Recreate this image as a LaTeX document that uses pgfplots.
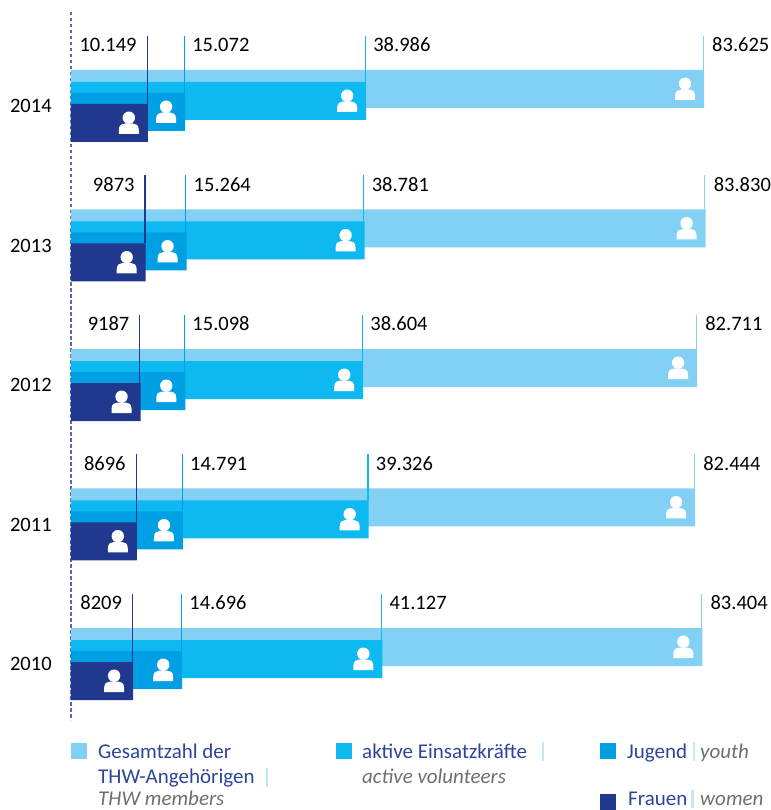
\documentclass[border=0pt]{standalone}
\usepackage{pgfplots}
\pgfplotsset{compat=1.18}
\usepackage{pgfplotstable}
\usepackage{fontspec}
\setmainfont{Carlito}
\definecolor{cTotal}{HTML}{83D0F5}
\definecolor{cActive}{HTML}{0DB9F0}
\definecolor{cYouth}{HTML}{009FE3}
\definecolor{cWomen}{HTML}{21388F}
\definecolor{cText}{HTML}{2C4697}
\definecolor{cSep}{HTML}{C4E6F8}
\definecolor{cGray}{HTML}{6F6F6F}
\pgfdeclareplotmark{person}{%
  \pgfpathcircle{\pgfpoint{-19pt}{5.3pt}}{6.2pt}\pgfusepathqfill
  \pgfpathmoveto{\pgfpoint{-29pt}{-11pt}}
  \pgfpathlineto{\pgfpoint{-29pt}{-7pt}}
  \pgfpathcurveto{\pgfpoint{-29pt}{-2pt}}{\pgfpoint{-26pt}{-0.5pt}}{\pgfpoint{-23pt}{-0.5pt}}
  \pgfpathlineto{\pgfpoint{-15pt}{-0.5pt}}
  \pgfpathcurveto{\pgfpoint{-12pt}{-0.5pt}}{\pgfpoint{-9pt}{-2pt}}{\pgfpoint{-9pt}{-7pt}}
  \pgfpathlineto{\pgfpoint{-9pt}{-11pt}}
  \pgfpathclose\pgfusepathqfill}
\pgfplotstableread{
year total active youth women
2014 83625 38986 15072 10149
2013 83830 38781 15264 9873
2012 82711 38604 15098 9187
2011 82444 39326 14791 8696
2010 83404 41127 14696 8209
}\members
\newcommand{\seriesplots}[3]{% column, colour, bar centre offset
  \addplot[xbar, bar width=38pt, bar shift=0pt, fill=#2, draw=none, forget plot]
    table[x=#1, y expr={(2014-\thisrow{year})*139.5+#3}] {\members};
}
\newcommand{\seriesline}[4]{% column, colour, line length, label placement
  \addplot[draw=none, mark=none, forget plot, xshift=-0.7pt,
    error bars/.cd, y dir=plus, y fixed=#3,
    error bar style={draw=#2, line width=1.2pt}, error mark=none]
    table[x=#1, y expr={(2014-\thisrow{year})*139.5+36}] {\members};
  \addplot[draw=none, mark=none, forget plot, point meta=x,
    nodes near coords={\pgfmathprintnumber[assume math mode=true, 1000 sep={.}, min exponent for 1000 sep=4]{\pgfplotspointmeta}},
    nodes near coords style={font=\fontsize{20.5}{20.5}\selectfont, text=black, inner sep=0pt, #4}]
    table[x=#1, y expr={(2014-\thisrow{year})*139.5+36}] {\members};
}
\newcommand{\seriesicon}[2]{%
  \addplot[only marks, mark=person, color=white, forget plot]
    table[x=#1, y expr={(2014-\thisrow{year})*139.5+#2}] {\members};
}
\newcommand{\lgsw}[3]{\fill[#1] (axis cs:-9379,0) ++(#2pt,-#3pt) rectangle ++(16pt,-16pt);}
\newcommand{\lgsep}[3]{\fill[cSep] (axis cs:-9379,0) ++(#1pt,-#2pt) rectangle ++(2.5pt,-#3pt);}
\newcommand{\lgt}[3]{\node[anchor=base west, inner sep=0pt, text=cText, font=\fontsize{21}{21}\selectfont] at ([shift={(#1pt,-#2pt)}]axis cs:-9379,0) {#3};}
\newcommand{\lgi}[3]{\node[anchor=base west, inner sep=0pt, text=cGray, font=\fontsize{21}{21}\selectfont\itshape] at ([shift={(#1pt,-#2pt)}]axis cs:-9379,0) {#3};}
\begin{document}
\begin{tikzpicture}[x=1pt,y=1pt]
\begin{axis}[
  at={(0,0)}, anchor=south west,
  scale only axis, width=770pt, height=810pt,
  xmin=-9379, xmax=92340,
  ymin=0, ymax=810, y dir=reverse,
  hide x axis,
  axis y line=none,
  clip=false,
]
\addplot[color=cWomen!75, dash pattern=on 3.5pt off 2.5pt, line width=1.2pt, forget plot] coordinates {(0,12) (0,720)};
\seriesplots{total}{cTotal}{89}
\seriesplots{active}{cActive}{101}
\seriesplots{youth}{cYouth}{112}
\seriesplots{women}{cWomen}{123}
\seriesline{total}{cTotal}{34}{anchor=west, xshift=8pt, yshift=-9pt}
\seriesline{active}{cActive}{46}{anchor=west, xshift=7pt, yshift=-9pt}
\seriesline{youth}{cYouth}{57}{anchor=west, xshift=7pt, yshift=-9pt}
\seriesline{women}{cWomen}{68}{anchor=east, xshift=-11pt, yshift=-9pt}
\seriesicon{total}{89}
\seriesicon{active}{101}
\seriesicon{youth}{112}
\seriesicon{women}{123}
% year labels
\addplot[draw=none, mark=none, forget plot, point meta=explicit symbolic,
  nodes near coords, nodes near coords style={font=\fontsize{20.5}{20.5}\selectfont, text=black, anchor=center, inner sep=0pt}]
  table[x expr={-5300}, y expr={(2014-\thisrow{year})*139.5+106}, meta=year] {\members};
% legend
\lgsw{cTotal}{71}{743}
\lgsw{cActive}{336}{743}
\lgsw{cYouth}{600}{743}
\lgsw{cWomen}{600}{794}
\lgt{98}{758}{Gesamtzahl der}
\lgt{98}{783}{THW-Angehörigen}
\lgsep{265.5}{768}{19}
\lgi{98}{805}{THW members}
\lgt{362}{758}{aktive Einsatzkräfte}
\lgsep{541.5}{742}{19}
\lgi{362}{783}{active volunteers}
\lgt{627}{758}{Jugend}
\lgsep{692.5}{742}{19}
\lgi{700}{758}{youth}
\lgt{628}{805}{Frauen}
\lgsep{691}{790}{18}
\lgi{700}{805}{women}
\end{axis}
\end{tikzpicture}
\end{document}
